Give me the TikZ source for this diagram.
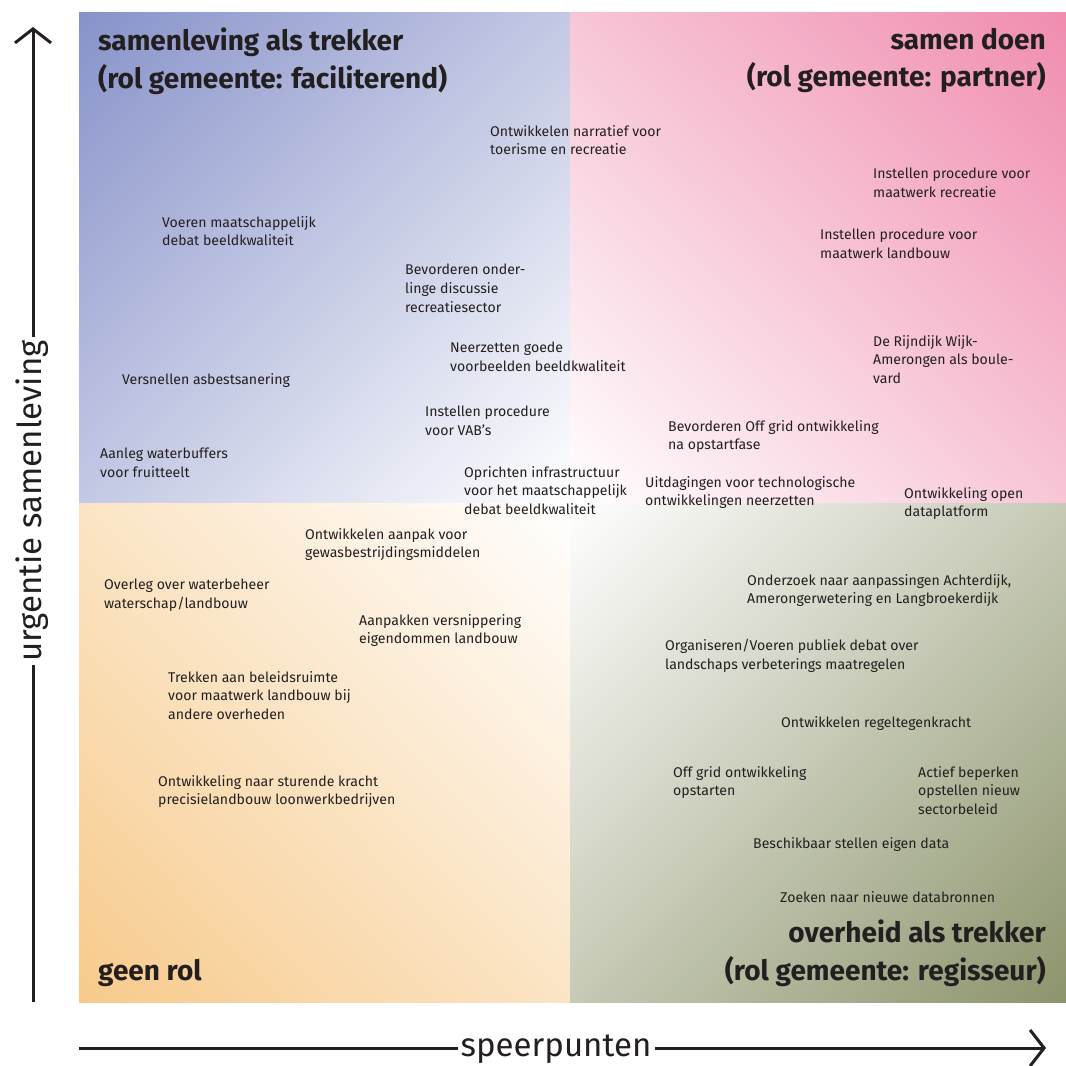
\documentclass[tikz,border=0pt]{standalone}
\usepackage{fontspec}
\setmainfont{Fira Sans}
\usetikzlibrary{arrows.meta,shadings}
\definecolor{txt}{HTML}{231F20}
\definecolor{blueA}{HTML}{8792C9}
\definecolor{pinkA}{HTML}{F08CAF}
\definecolor{orangeA}{HTML}{F7CA8B}
\definecolor{oliveA}{HTML}{8C946C}
\begin{document}
\begin{tikzpicture}[x=1pt,y=-1pt,
  lbl/.style={anchor=north west,align=left,inner sep=0pt,text=txt,font=\fontsize{14.1}{18.7}\selectfont},
  ttl/.style={inner sep=0pt,text=txt,font=\fontsize{28}{37.5}\selectfont\bfseries},
  axisline/.style={line width=3pt,draw=txt},
  axistip/.style={-{Straight Barb[length=14pt,width=36pt]}},
  axislbl/.style={inner sep=3pt,text=txt,font=\fontsize{33}{36}\selectfont}]
\useasboundingbox (0,0) rectangle (1066,1066);
\fill[white] (0,0) rectangle (1066,1066);
% quadrants
\shade[upper left=blueA, upper right=blueA!50!white, lower left=blueA!50!white, lower right=white] (79,12) rectangle (570,503);
\shade[upper right=pinkA, upper left=pinkA!50!white, lower right=pinkA!50!white, lower left=white] (570,12) rectangle (1066,503);
\shade[lower left=orangeA, upper left=orangeA!50!white, lower right=orangeA!50!white, upper right=white] (79,503) rectangle (570,1002);
\shade[lower right=oliveA, upper right=oliveA!50!white, lower left=oliveA!50!white, upper left=white] (570,503) rectangle (1066,1002);

% titles
\node[ttl,anchor=north west,align=left] (tTL) at (98,28) {samenleving als trekker\\(rol gemeente: faciliterend)};
\node[ttl,anchor=north east,align=right] (tTR) at (1046,28) {samen doen\\(rol gemeente: partner)};
\node[ttl,anchor=north east,align=right] (tBR) at (1046,920) {overheid als trekker\\(rol gemeente: regisseur)};
\node[ttl,anchor=north west,align=left] (tBL) at (98,959) {geen rol};

% top-left items
\node[lbl] (a1) at (490,125) {Ontwikkelen narratief voor\\toerisme en recreatie};
\node[lbl] (a2) at (162,216) {Voeren maatschappelijk\\debat beeldkwaliteit};
\node[lbl] (a3) at (405,264) {Bevorderen onder-\\linge discussie\\recreatiesector};
\node[lbl] (a4) at (450,342) {Neerzetten goede\\voorbeelden beeldkwaliteit};
\node[lbl] (a5) at (122,373) {Versnellen asbestsanering};
\node[lbl] (a6) at (425,406) {Instellen procedure\\voor VAB’s};
\node[lbl] (a7) at (100,448) {Aanleg waterbuffers\\voor fruitteelt};
\node[lbl] (a8) at (464,466) {Oprichten infrastructuur\\voor het maatschappelijk\\debat beeldkwaliteit};

% top-right items
\node[lbl] (b1) at (873,168) {Instellen procedure voor\\maatwerk recreatie};
\node[lbl] (b2) at (820,229) {Instellen procedure voor\\maatwerk landbouw};
\node[lbl] (b3) at (873,335) {De Rijndijk Wijk-\\Amerongen als boule-\\vard};
\node[lbl] (b4) at (668,420) {Bevorderen Off grid ontwikkeling\\na opstartfase};
\node[lbl] (b5) at (645,476) {Uitdagingen voor technologische\\ontwikkelingen neerzetten};
\node[lbl] (b6) at (904,487) {Ontwikkeling open\\dataplatform};

% bottom-left items
\node[lbl] (c1) at (305,528) {Ontwikkelen aanpak voor\\gewasbestrijdingsmiddelen};
\node[lbl] (c2) at (104,579) {Overleg over waterbeheer\\waterschap/landbouw};
\node[lbl] (c3) at (359,614) {Aanpakken versnippering\\eigendommen landbouw};
\node[lbl] (c4) at (168,671) {Trekken aan beleidsruimte\\voor maatwerk landbouw bij\\andere overheden};
\node[lbl] (c5) at (158,775) {Ontwikkeling naar sturende kracht\\precisielandbouw loonwerkbedrijven};

% bottom-right items
\node[lbl] (d1) at (747,574) {Onderzoek naar aanpassingen Achterdijk,\\Amerongerwetering en Langbroekerdijk};
\node[lbl] (d2) at (665,639) {Organiseren/Voeren publiek debat over\\landschaps verbeterings maatregelen};
\node[lbl] (d3) at (781,716) {Ontwikkelen regeltegenkracht};
\node[lbl] (d4) at (673,766) {Off grid ontwikkeling\\opstarten};
\node[lbl] (d5) at (918,766) {Actief beperken\\opstellen nieuw\\sectorbeleid};
\node[lbl] (d6) at (753,837) {Beschikbaar stellen eigen data};
\node[lbl] (d7) at (780,891) {Zoeken naar nieuwe databronnen};

% axes
\coordinate (ybot) at (33,1002);
\coordinate (ytop) at (33,27);
\coordinate (xleft) at (79,1048);
\coordinate (xright) at (1046,1048);
\node[axislbl,rotate=90,anchor=base] (ylab) at (41.5,501) {urgentie samenleving};
\node[axislbl,anchor=base] (xlab) at (556,1056.5) {speerpunten};
\draw[axisline] (ybot) -- (ybot |- ylab.west);
\draw[axisline,axistip] (ybot |- ylab.east) -- (ytop);
\draw[axisline] (xleft) -- (xleft -| xlab.west);
\draw[axisline,axistip] (xleft -| xlab.east) -- (xright);
\end{tikzpicture}
\end{document}
